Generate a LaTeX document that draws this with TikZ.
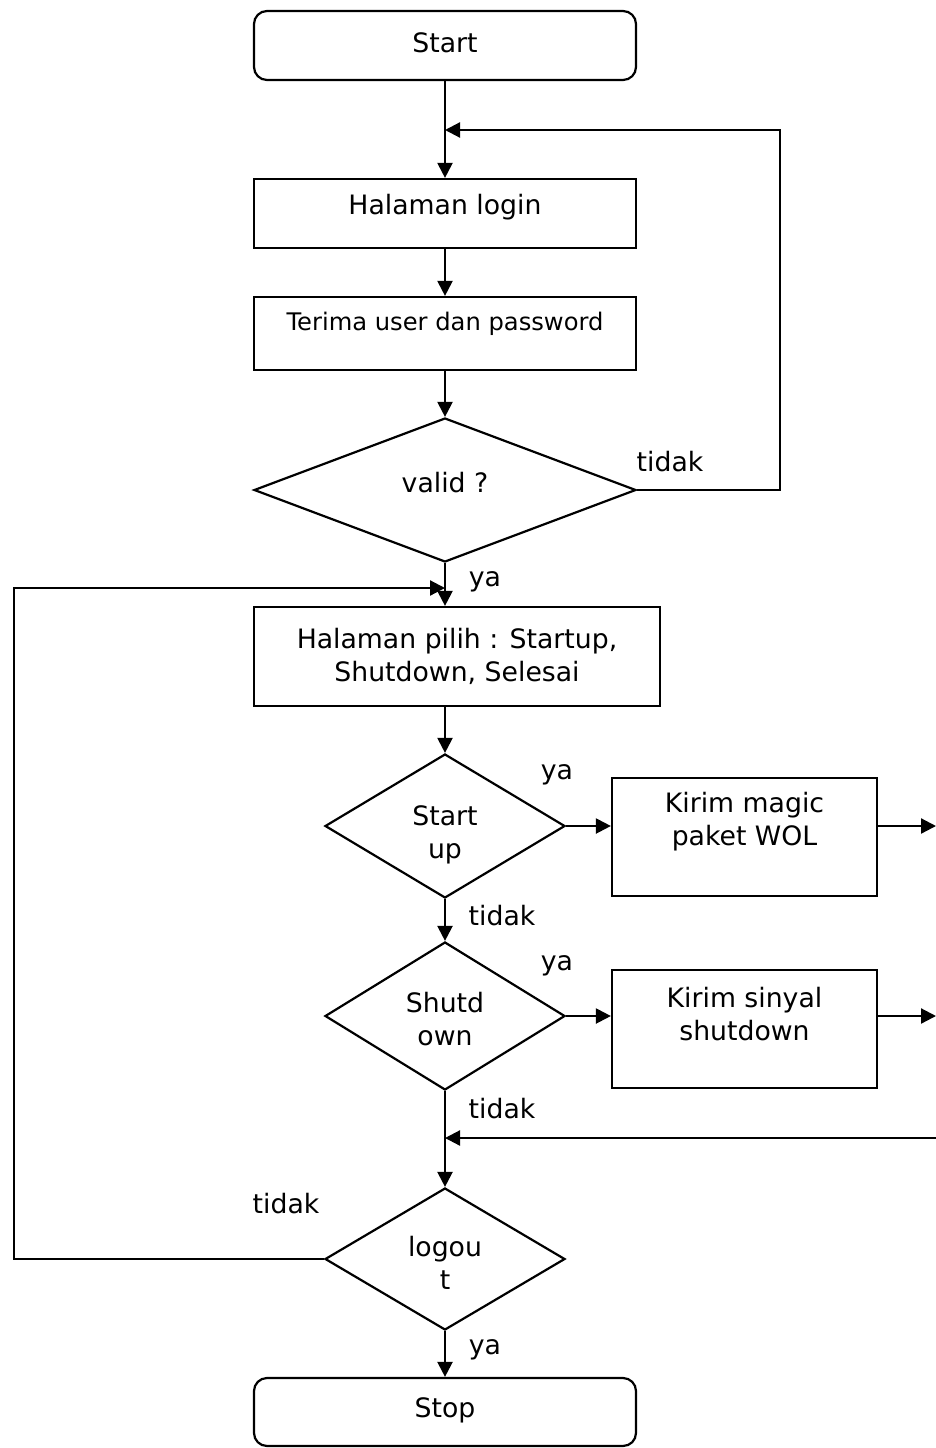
\documentclass[tikz,border=0pt]{standalone}
\usepackage{fontspec}
\setmainfont{DejaVu Sans}
\usetikzlibrary{shapes.geometric,arrows.meta}
\tikzset{
  ln/.style={line width=2.2pt},
  arr/.style={ln,-{Triangle[length=15pt,width=15pt]}},
  term/.style={draw,ln,rounded corners=13pt,minimum width=382pt,inner sep=0pt},
  proc/.style={draw,ln,inner sep=0pt},
  dec/.style={draw,ln,diamond,inner sep=0pt},
  txt/.style={font=\fontsize{26.7}{33}\selectfont,align=center,inner sep=0pt},
  small/.style={font=\fontsize{24.2}{29}\selectfont,align=center,inner sep=0pt}
}
\begin{document}
\begin{tikzpicture}[x=1pt,y=-1pt]
\useasboundingbox (0,0) rectangle (936,1448);
% shapes
\node[term,minimum height=69pt] (start) at (445,45.5) {};
\node[proc,minimum width=382pt,minimum height=69pt] (login) at (445,213.5) {};
\node[proc,minimum width=382pt,minimum height=73pt] (terima) at (445,333.5) {};
\node[dec,minimum width=382pt,minimum height=144pt] (valid) at (445,490) {};
\node[proc,minimum width=406pt,minimum height=99pt] (pilih) at (457,656.5) {};
\node[dec,minimum width=240pt,minimum height=144pt] (startup) at (445,826) {};
\node[proc,minimum width=265pt,minimum height=118pt] (magic) at (744.5,837) {};
\node[dec,minimum width=240pt,minimum height=148pt] (shutdown) at (445,1016) {};
\node[proc,minimum width=265pt,minimum height=118pt] (sinyal) at (744.5,1029) {};
\node[dec,minimum width=240pt,minimum height=142pt] (logout) at (445,1259) {};
\node[term,minimum height=68pt] (stop) at (445,1412) {};
% texts
\node[txt] (tstart) at (445,43) {Start};
\node[txt] (tlogin) at (445,207) {Halaman login};
\node[small] (tterima) at (445,324) {Terima user dan password};
\node[txt] (tvalid) at (445,483) {valid ?};
\node[txt] (tpilih) at (457,656) {Halaman pilih : Startup,\\ Shutdown, Selesai};
\node[txt] (tstartup) at (445,835) {Start\\up};
\node[txt] (tmagic) at (744.5,822) {Kirim magic\\paket WOL};
\node[txt] (tshutdown) at (445,1019) {Shutd\\own};
\node[txt] (tsinyal) at (744.5,1014) {Kirim sinyal\\shutdown};
\node[txt] (tlogout) at (445,1263) {logou\\t};
\node[txt] (tstop) at (445,1410) {Stop};
% labels
\node[txt] (l1) at (670,462) {tidak};
\node[txt] (l2) at (485,582) {ya};
\node[txt] (l3) at (557,775) {ya};
\node[txt] (l4) at (502,916) {tidak};
\node[txt] (l5) at (557,966) {ya};
\node[txt] (l6) at (502,1109) {tidak};
\node[txt] (l7) at (286,1204) {tidak};
\node[txt] (l8) at (485,1350) {ya};
% junction coordinates
\coordinate (j1) at (445,130);
\coordinate (j2) at (445,588);
\coordinate (j3) at (445,1138);
\coordinate (r1) at (936,826);
\coordinate (r2) at (936,1016);
\coordinate (r3) at (936,1138);
% connectors
\draw[arr] (start.south) -- (login.north);
\draw[arr] (login.south) -- (terima.north);
\draw[arr] (terima.south) -- (valid.north);
\draw[arr] (valid.east) -- (780,490) |- (j1);
\draw[arr] (valid.south) -- (pilih.north -| valid.south);
\draw[arr] (logout.west) -- (14,1259) |- (j2);
\draw[arr] (pilih.south -| startup.north) -- (startup.north);
\draw[arr] (startup.east) -- (magic.west |- startup.east);
\draw[arr] (magic.east |- r1) -- (r1);
\draw[arr] (startup.south) -- (shutdown.north);
\draw[arr] (shutdown.east) -- (sinyal.west |- shutdown.east);
\draw[arr] (sinyal.east |- r2) -- (r2);
\draw[arr] (shutdown.south) -- (logout.north);
\draw[arr] (r3) -- (j3);
\draw[arr] (logout.south) -- (stop.north);
\end{tikzpicture}
\end{document}
